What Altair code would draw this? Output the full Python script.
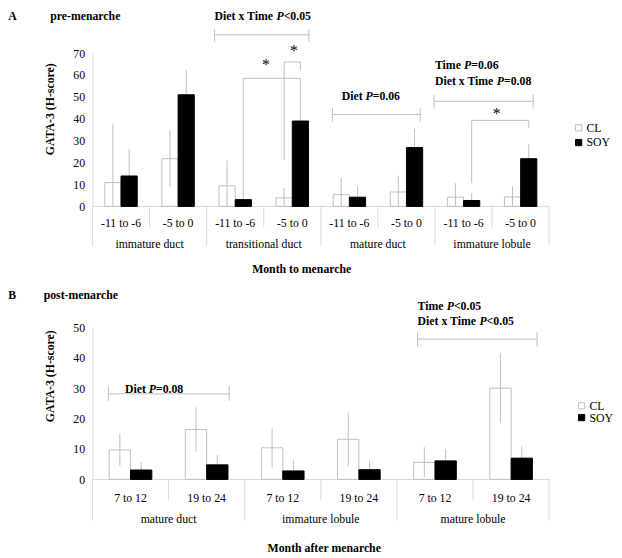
import altair as alt
import pandas as pd

FONT = "Liberation Serif"
ERR = "#bfbfbf"
LINE = "#d9d9d9"

# ---------------- Panel A: pre-menarche ----------------
A_TISSUES = ["immature duct", "transitional duct", "mature duct", "immature lobule"]
A_TIMES = ["-11 to -6", "-5 to 0"]
A_CL = [10.9, 21.8, 9.4, 3.9, 5.4, 6.6, 4.2, 4.3]
A_CL_SE = [27.0, 13.0, 11.6, 4.5, 7.5, 7.5, 6.4, 4.8]
A_SOY = [13.9, 51.0, 3.1, 39.0, 4.2, 26.9, 2.7, 21.8]
A_SOY_SE = [12.4, 11.2, 4.8, 12.0, 4.9, 8.4, 3.4, 6.5]

# ---------------- Panel B: post-menarche ----------------
B_TISSUES = ["mature duct", "immature lobule", "mature lobule"]
B_TIMES = ["7 to 12", "19 to 24"]
B_CL = [9.7, 16.4, 10.4, 13.2, 5.6, 30.0]
B_CL_SE = [5.3, 7.3, 6.4, 8.8, 5.0, 11.4]
B_SOY = [3.1, 4.8, 2.8, 3.2, 6.1, 7.0]
B_SOY_SE = [2.6, 3.2, 3.4, 3.0, 3.9, 3.9]

# ---------------- annotations (x in category slots, y in H-score units) ----------------
A_BRACKETS = [
    (2.139, 78.4, 3.790, 78.4), (2.139, 81.0, 2.139, 75.2), (3.790, 81.0, 3.790, 75.2),
    (2.642, 58.5, 3.642, 58.5), (2.642, 58.5, 2.642, 8.0), (3.642, 58.5, 3.642, 51.0),
    (3.358, 66.0, 3.642, 66.0), (3.358, 66.0, 3.358, 21.4), (3.642, 66.0, 3.642, 62.2),
    (4.203, 42.0, 5.741, 42.0), (4.203, 45.0, 4.203, 38.7), (5.741, 45.0, 5.741, 38.7),
    (5.982, 48.0, 7.720, 48.0), (5.982, 51.0, 5.982, 44.7), (7.720, 51.0, 7.720, 44.7),
    (6.642, 39.3, 7.642, 39.3), (6.642, 39.3, 6.642, 10.6), (7.642, 39.3, 7.642, 35.8),
]
A_STATS = [
    (2.139, 86.9, "Diet x Time ", "<0.05"),
    (4.365, 50.2, "Diet ", "=0.06"),
    (5.999, 64.5, "Time ", "=0.06"),
    (5.999, 57.4, "Diet x Time ", "=0.08"),
]
A_STARS = [(3.04, 62.3), (3.53, 68.5), (7.08, 40.0)]

B_BRACKETS = [
    (0.210, 28.1, 1.797, 28.1), (0.210, 30.6, 0.210, 25.8), (1.797, 30.6, 1.797, 25.8),
    (4.271, 46.1, 5.841, 46.1), (4.271, 48.3, 4.271, 43.5), (5.841, 48.3, 5.841, 43.5),
]
B_STATS = [
    (0.426, 29.7, "Diet ", "=0.08"),
    (4.271, 57.1, "Time ", "<0.05"),
    (4.271, 52.0, "Diet x Time ", "<0.05"),
]
B_STARS = []

PREFIX_PX = {"Diet x Time ": 63.0, "Time ": 29.7, "Diet ": 24.3}
P_PX = 7.3


def panel(letter, title, xtitle, tissues, times, cl, cl_se, soy, soy_se, ymax,
          width, height, half, lab_y, grp_y, inner_d, grp_d, xtitle_pos,
          letter_pos, title_x, ytitle_pos, brackets, stats, stars, leg_xy, row_pad):
    n = len(tissues) * len(times)
    slot_px = width / n
    rows = []
    for i in range(n):
        c = i + 0.5
        for diet, vals, ses, sign in (("CL", cl, cl_se, -1), ("SOY", soy, soy_se, 1)):
            mid = c + sign * half
            v, e = vals[i], ses[i]
            rows.append(dict(diet=diet, mid=mid, x1=mid - half, x2=mid + half,
                             value=v, zero=0.0, lo=max(0.0, v - e), hi=v + e))
    bars = pd.DataFrame(rows)

    xs = alt.Scale(domain=[0, n], nice=False, zero=False, padding=0)
    ys = alt.Scale(domain=[0, ymax], nice=False, padding=0)
    yaxis = alt.Axis(values=list(range(0, ymax + 1, 10)), title=None, grid=False,
                     ticks=False, tickSize=0, labelPadding=8, domainColor=LINE,
                     labelFont=FONT, labelFontSize=12, labelColor="black",
                     labelFlush=False)

    def X(f):
        return alt.X(f, scale=xs, axis=None)

    def Y(f):
        return alt.Y(f, scale=ys, axis=yaxis)

    # dividers and baseline
    div = pd.DataFrame({
        "x": list(range(n + 1)),
        "y0": [0] * (n + 1),
        "y1": [grp_d if i % len(times) == 0 else inner_d for i in range(n + 1)],
    })
    dividers = alt.Chart(div).mark_rule(color=LINE, strokeWidth=1).encode(
        x=X("x:Q"), y=Y("y0:Q"), y2="y1:Q")
    base = alt.Chart(pd.DataFrame({"x0": [0], "x1": [n], "y": [0]})).mark_rule(
        color=LINE, strokeWidth=1).encode(x=X("x0:Q"), x2="x1:Q", y=Y("y:Q"))

    err = alt.Chart(bars).mark_rule(color=ERR, strokeWidth=1).encode(
        x=X("mid:Q"), y=Y("lo:Q"), y2="hi:Q")

    leg = alt.Legend(title=None, orient="none", legendX=leg_xy[0], legendY=leg_xy[1],
                     symbolType="square", symbolSize=40, symbolStrokeWidth=1,
                     labelFont=FONT, labelFontSize=12, labelColor="black",
                     labelOffset=2, rowPadding=row_pad, padding=0)
    bar = alt.Chart(bars).mark_bar(strokeWidth=1, orient="vertical").encode(
        x=X("x1:Q"), x2="x2:Q",
        y=alt.Y("value:Q", scale=ys, axis=yaxis, stack=None), y2="zero:Q",
        fill=alt.Fill("diet:N", scale=alt.Scale(domain=["CL", "SOY"], range=["transparent", "black"]), legend=leg),
        stroke=alt.Stroke("diet:N", scale=alt.Scale(domain=["CL", "SOY"], range=[ERR, "black"]), legend=leg),
    )

    br = pd.DataFrame(brackets, columns=["x", "y", "x2", "y2"])
    brk = alt.Chart(br).mark_rule(color=ERR, strokeWidth=1).encode(
        x=X("x:Q"), y=Y("y:Q"), x2="x2:Q", y2="y2:Q")

    # category labels
    lab = pd.DataFrame({
        "x": [i + 0.5 for i in range(n)],
        "y": [lab_y] * n,
        "t": [times[i % len(times)] for i in range(n)],
    })
    grp = pd.DataFrame({
        "x": [g * len(times) + len(times) / 2 for g in range(len(tissues))],
        "y": [grp_y] * len(tissues),
        "t": tissues,
    })
    labs = pd.concat([lab, grp])
    labels = alt.Chart(labs).mark_text(font=FONT, fontSize=12, align="center",
                                       baseline="middle", color="black").encode(
        x=X("x:Q"), y=Y("y:Q"), text="t:N")

    heads = pd.DataFrame({
        "x": [letter_pos[0], title_x],
        "y": [letter_pos[1], letter_pos[1]],
        "t": [letter, title],
    })
    headers = alt.Chart(heads).mark_text(font=FONT, fontSize=12, fontWeight="bold",
                                         align="left", baseline="middle", color="black").encode(
        x=X("x:Q"), y=Y("y:Q"), text="t:N")
    xt = alt.Chart(pd.DataFrame({"x": [xtitle_pos[0]], "y": [xtitle_pos[1]], "t": [xtitle]})).mark_text(
        font=FONT, fontSize=12, fontWeight="bold", align="center", baseline="middle",
        color="black").encode(x=X("x:Q"), y=Y("y:Q"), text="t:N")
    yt = alt.Chart(pd.DataFrame({"x": [ytitle_pos[0]], "y": [ytitle_pos[1]], "t": ["GATA-3 (H-score)"]})).mark_text(
        font=FONT, fontSize=12, fontWeight="bold", align="center", baseline="middle",
        angle=270, color="black").encode(x=X("x:Q"), y=Y("y:Q"), text="t:N")

    st = pd.DataFrame([
        dict(xa=x0, xp=x0 + PREFIX_PX[pre] / slot_px,
             xs=x0 + (PREFIX_PX[pre] + P_PX) / slot_px, y=y, pre=pre, suf=suf, p="P")
        for (x0, y, pre, suf) in stats
    ])
    tkw = dict(font=FONT, fontSize=12, fontWeight="bold", align="left",
               baseline="middle", color="black")
    s1 = alt.Chart(st).mark_text(**tkw).encode(x=X("xa:Q"), y=Y("y:Q"), text="pre:N")
    s2 = alt.Chart(st).mark_text(fontStyle="italic", **tkw).encode(x=X("xp:Q"), y=Y("y:Q"), text="p:N")
    s3 = alt.Chart(st).mark_text(**tkw).encode(x=X("xs:Q"), y=Y("y:Q"), text="suf:N")

    layers = [dividers, base, err, bar, brk, labels, headers, xt, yt, s1, s2, s3]
    if stars:
        sd = pd.DataFrame(stars, columns=["x", "y"]).assign(t="*")
        layers.append(alt.Chart(sd).mark_text(font=FONT, fontSize=16, align="center",
                                              baseline="alphabetic", color="black").encode(
            x=X("x:Q"), y=Y("y:Q"), text="t:N"))
    return alt.layer(*layers).properties(width=width, height=height)


pa = panel("A", "pre-menarche", "Month to menarche", A_TISSUES, A_TIMES,
           A_CL, A_CL_SE, A_SOY, A_SOY_SE, 70, 465, 156, 0.142,
           -7.6, -17.1, -9.4, -17.9, (3.665, -28.7), (-1.474, 87.0), -0.740,
           (-0.740, 44.4), A_BRACKETS, A_STATS, A_STARS, (489, 70), 3)
pb = panel("B", "post-menarche", "Month after menarche", B_TISSUES, B_TIMES,
           B_CL, B_CL_SE, B_SOY, B_SOY_SE, 50, 465, 155, 0.14,
           -6.2, -12.9, -6.8, -13.6, (3.045, -22.6), (-1.106, 60.4), -0.641,
           (-0.555, 33.9), B_BRACKETS, B_STATS, B_STARS, (492, 74), 0)

chart = alt.vconcat(pa, pb, spacing=123, bounds="flush",
                    padding={"top": -3, "left": 0, "right": 0, "bottom": 0}).resolve_scale(
    fill="independent", stroke="independent").resolve_legend(
    fill="independent", stroke="independent").configure_view(stroke=None)

chart.save("out.html", embed_options={"renderer": "svg", "actions": False})
